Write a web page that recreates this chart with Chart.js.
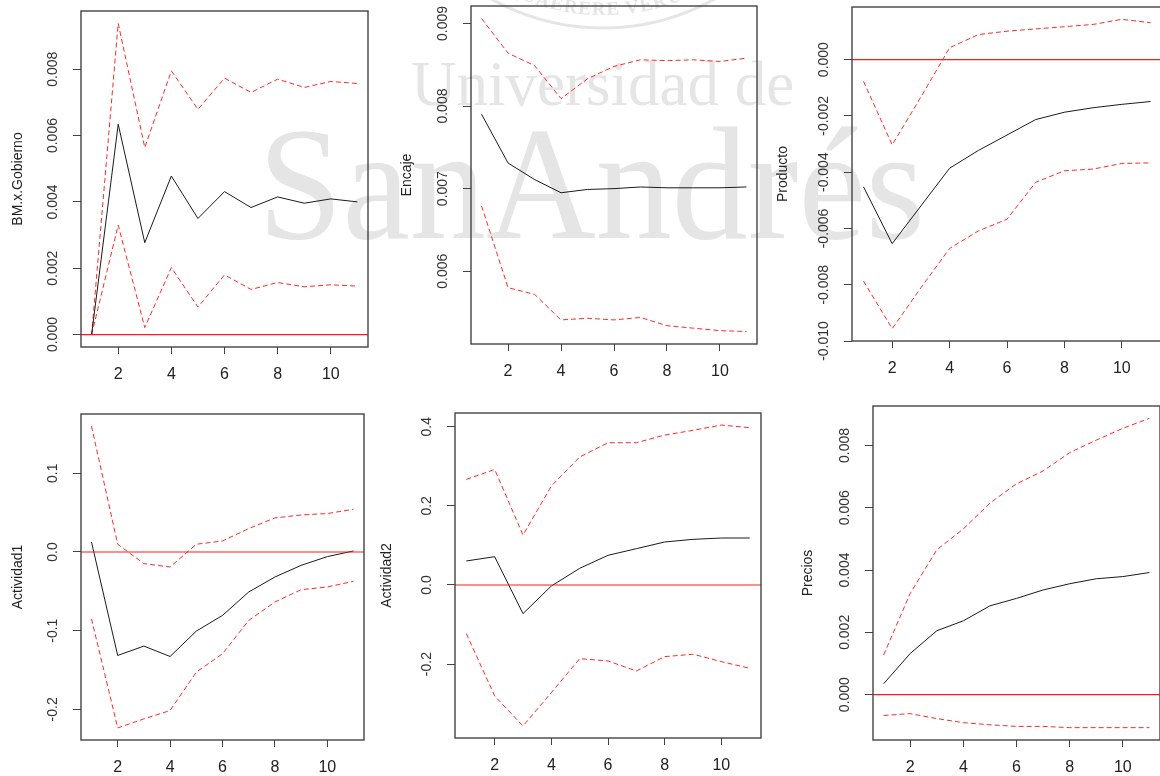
<!DOCTYPE html>
<html>
<head>
<meta charset="utf-8">
<script src="https://cdn.jsdelivr.net/npm/chart.js@4.4.0/dist/chart.umd.min.js"></script>
<style>
  html, body { margin: 0; padding: 0; background: #fff; }
  body { width: 1160px; height: 776px; overflow: hidden; position: relative; }
  canvas { position: absolute; }
</style>
</head>
<body>
<canvas id="watermark" width="1160" height="776" style="left:0;top:0"></canvas>
<script>
// impulse response horizons and shared x ticks
const horizon = [1, 2, 3, 4, 5, 6, 7, 8, 9, 10, 11];
const xTicks = [2, 4, 6, 8, 10];

// BM.x.Gobierno
const bmMean  = [0.0000, 0.00634, 0.00277, 0.00478, 0.00350, 0.00431, 0.00383, 0.00415, 0.00396, 0.00409, 0.00400];
const bmUpper = [0.0000, 0.00938, 0.00564, 0.00795, 0.00679, 0.00773, 0.00730, 0.00770, 0.00745, 0.00763, 0.00757];
const bmLower = [0.0000, 0.00330, 0.00021, 0.00202, 0.00083, 0.00180, 0.00136, 0.00157, 0.00144, 0.00150, 0.00146];
const bmTicks = [0, 0.002, 0.004, 0.006, 0.008];
const bmTickLabels = ["0.000", "0.002", "0.004", "0.006", "0.008"];

// Encaje
const encajeMean  = [0.00790, 0.00731, 0.00711, 0.00695, 0.00699, 0.00700, 0.00702, 0.00701, 0.00701, 0.00701, 0.00702];
const encajeUpper = [0.00906, 0.00864, 0.00849, 0.00809, 0.00833, 0.00848, 0.00856, 0.00855, 0.00856, 0.00854, 0.00858];
const encajeLower = [0.00679, 0.00580, 0.00572, 0.00541, 0.00543, 0.00541, 0.00544, 0.00534, 0.00531, 0.00528, 0.00527];
const encajeTicks = [0.006, 0.007, 0.008, 0.009];
const encajeTickLabels = ["0.006", "0.007", "0.008", "0.009"];

// Producto
const productoMean  = [-0.00452, -0.00654, -0.00520, -0.00386, -0.00323, -0.00268, -0.00213, -0.00187, -0.00171, -0.00159, -0.00149];
const productoUpper = [-0.00077, -0.00303, -0.00133, 0.00042, 0.00089, 0.00101, 0.00109, 0.00117, 0.00125, 0.00143, 0.00131];
const productoLower = [-0.00787, -0.00956, -0.00811, -0.00671, -0.00609, -0.00567, -0.00436, -0.00395, -0.00389, -0.00369, -0.00367];
const productoTicks = [-0.010, -0.008, -0.006, -0.004, -0.002, 0];
const productoTickLabels = ["-0.010", "-0.008", "-0.006", "-0.004", "-0.002", "0.000"];

// Actividad1
const act1Mean  = [0.0127, -0.1315, -0.1196, -0.1328, -0.1006, -0.0806, -0.0509, -0.0318, -0.0170, -0.0059, 0.0013];
const act1Upper = [0.1600, 0.0098, -0.0148, -0.0191, 0.0098, 0.0140, 0.0297, 0.0433, 0.0470, 0.0488, 0.0543];
const act1Lower = [-0.0849, -0.2236, -0.2121, -0.2015, -0.1527, -0.1294, -0.0870, -0.0636, -0.0479, -0.0445, -0.0373];
const act1Ticks = [-0.2, -0.1, 0, 0.1];
const act1TickLabels = ["-0.2", "-0.1", "0.0", "0.1"];

// Actividad2
const act2Mean  = [0.0607, 0.0716, -0.0725, -0.0025, 0.0421, 0.0750, 0.0918, 0.1087, 0.1154, 0.1188, 0.1188];
const act2Upper = [0.2670, 0.2920, 0.1264, 0.2500, 0.3235, 0.3597, 0.3597, 0.3790, 0.3910, 0.4044, 0.3976];
const act2Lower = [-0.1230, -0.2805, -0.3564, -0.2720, -0.1862, -0.1920, -0.2174, -0.1811, -0.1750, -0.1938, -0.2106];
const act2Ticks = [-0.2, 0, 0.2, 0.4];
const act2TickLabels = ["-0.2", "0.0", "0.2", "0.4"];

// Precios
const preciosMean  = [0.00035, 0.00132, 0.00205, 0.00237, 0.00285, 0.00309, 0.00336, 0.00356, 0.00372, 0.00379, 0.00392];
const preciosUpper = [0.00127, 0.00325, 0.00465, 0.00532, 0.00615, 0.00677, 0.00718, 0.00777, 0.00817, 0.00855, 0.00887];
const preciosLower = [-0.00067, -0.00061, -0.00077, -0.00090, -0.00097, -0.00102, -0.00102, -0.00106, -0.00106, -0.00106, -0.00106];
const preciosTicks = [0, 0.002, 0.004, 0.006, 0.008];
const preciosTickLabels = ["0.000", "0.002", "0.004", "0.006", "0.008"];

const FONT = "'Liberation Sans', Arial, sans-serif";

// panel boxes (plot region in page pixels) and where the y title sits
const panels = [
  { label: "BM.x.Gobierno", mean: bmMean, upper: bmUpper, lower: bmLower, ticks: bmTicks, tickLabels: bmTickLabels,
    box: { l: 81, r: 368, t: 11, b: 347 }, titleX: 18 },
  { label: "Encaje", mean: encajeMean, upper: encajeUpper, lower: encajeLower, ticks: encajeTicks, tickLabels: encajeTickLabels,
    box: { l: 471, r: 757, t: 6, b: 344 }, titleX: 407 },
  { label: "Producto", mean: productoMean, upper: productoUpper, lower: productoLower, ticks: productoTicks, tickLabels: productoTickLabels,
    box: { l: 852, r: 1162, t: 7, b: 341 }, titleX: 783 },
  { label: "Actividad1", mean: act1Mean, upper: act1Upper, lower: act1Lower, ticks: act1Ticks, tickLabels: act1TickLabels,
    box: { l: 81, r: 364, t: 414, b: 740 }, titleX: 18 },
  { label: "Actividad2", mean: act2Mean, upper: act2Upper, lower: act2Lower, ticks: act2Ticks, tickLabels: act2TickLabels,
    box: { l: 455, r: 761, t: 413, b: 738 }, titleX: 387 },
  { label: "Precios", mean: preciosMean, upper: preciosUpper, lower: preciosLower, ticks: preciosTicks, tickLabels: preciosTickLabels,
    box: { l: 873, r: 1160, t: 406, b: 740 }, titleX: 808 }
];

// R style axis limits: data range stretched by 4% on each side
function paddedRange(series) {
  const all = [].concat(...series);
  const lo = Math.min(...all), hi = Math.max(...all);
  const pad = (hi - lo) * 0.04;
  return [lo - pad, hi + pad];
}

// box, abline(h = 0) and rotated y tick labels like base R graphics
const rStylePlugin = {
  id: "rStyle",
  afterDatasetsDraw(chart) {
    const { ctx, chartArea: a, scales: { y } } = chart;
    if (y.min < 0 && y.max > 0) {
      const py = y.getPixelForValue(0);
      ctx.save();
      ctx.strokeStyle = "#ff1a1a";
      ctx.lineWidth = 1.2;
      ctx.beginPath();
      ctx.moveTo(a.left, py);
      ctx.lineTo(a.right, py);
      ctx.stroke();
      ctx.restore();
    }
  },
  afterDraw(chart, args, opts) {
    const { ctx, chartArea: a, scales: { y } } = chart;
    ctx.save();
    ctx.strokeStyle = "#444";
    ctx.lineWidth = 1.4;
    ctx.strokeRect(a.left, a.top, a.right - a.left, a.bottom - a.top);

    ctx.fillStyle = "#333";
    ctx.font = "14px " + FONT;
    ctx.textAlign = "center";
    ctx.textBaseline = "middle";
    opts.values.forEach((v, i) => {
      ctx.save();
      ctx.translate(a.left - 28, y.getPixelForValue(v));
      ctx.rotate(-Math.PI / 2);
      ctx.fillText(opts.labels[i], 0, 0);
      ctx.restore();
    });
    ctx.restore();
  }
};

const [xMin, xMax] = paddedRange([horizon]);

panels.forEach(p => {
  const left = p.titleX - 18;
  const top = Math.max(0, p.box.t - 6);
  const width = p.box.r + 4 - left;
  const height = p.box.b + 40 - top;

  const canvas = document.createElement("canvas");
  canvas.width = width;
  canvas.height = height;
  canvas.style.left = left + "px";
  canvas.style.top = top + "px";
  document.body.appendChild(canvas);

  const [yMin, yMax] = paddedRange([p.mean, p.upper, p.lower]);
  const dashed = { borderColor: "#ff2a2a", borderWidth: 1, borderDash: [5, 3] };

  new Chart(canvas, {
    type: "line",
    data: {
      labels: horizon,
      datasets: [
        { data: p.mean, borderColor: "#1a1a1a", borderWidth: 1 },
        Object.assign({ data: p.upper }, dashed),
        Object.assign({ data: p.lower }, dashed)
      ]
    },
    options: {
      responsive: false,
      animation: false,
      devicePixelRatio: 1,
      layout: { padding: { top: p.box.t - top, right: left + width - p.box.r, left: 0, bottom: 0 } },
      elements: { point: { radius: 0 }, line: { tension: 0 } },
      plugins: {
        legend: { display: false },
        tooltip: { enabled: false },
        rStyle: { values: p.ticks, labels: p.tickLabels }
      },
      scales: {
        x: {
          type: "linear",
          min: xMin,
          max: xMax,
          afterBuildTicks: s => { s.ticks = xTicks.map(v => ({ value: v })); },
          afterFit: s => { s.height = top + height - p.box.b; },
          grid: { drawOnChartArea: false, drawTicks: true, tickLength: 7, color: "#444" },
          border: { display: false },
          ticks: { font: { family: FONT, size: 16 }, color: "#222", padding: 11, maxRotation: 0, autoSkip: false }
        },
        y: {
          type: "linear",
          min: yMin,
          max: yMax,
          afterBuildTicks: s => { s.ticks = p.ticks.map(v => ({ value: v })); },
          afterFit: s => { s.width = p.box.l - left; },
          grid: { drawOnChartArea: false, drawTicks: true, tickLength: 8, color: "#444" },
          border: { display: false },
          ticks: { display: false },
          title: { display: true, text: p.label, color: "#222", font: { family: FONT, size: 14 }, padding: { top: 9.6, bottom: 0 } }
        }
      }
    },
    plugins: [rStylePlugin]
  });
});

// faint university watermark behind the plots
const wm = document.getElementById("watermark").getContext("2d");
wm.fillStyle = "#e5e5e5";
wm.font = "63px 'Liberation Serif', serif";
wm.fillText("Universidad de", 411, 105);
wm.font = "160px 'Liberation Serif', serif";
wm.fillText("SanAndrés", 258, 238, 667);

// seal at the top edge
const sealX = 603, sealY = -202;
wm.strokeStyle = "#e5e5e5";
wm.lineWidth = 3;
wm.beginPath();
wm.arc(sealX, sealY, 230, 0, Math.PI);
wm.stroke();
wm.font = "bold 19px 'Liberation Serif', serif";
wm.textAlign = "center";
const sealText = "QUAERERE VERUM";
const r = 217;
let ang = wm.measureText(sealText).width * 1.1 / 2 / r;
for (const ch of sealText) {
  const w = wm.measureText(ch).width * 1.1;
  const mid = ang - w / 2 / r;
  wm.save();
  wm.translate(sealX - r * Math.sin(mid), sealY + r * Math.cos(mid));
  wm.rotate(mid);
  wm.fillText(ch, 0, 0);
  wm.restore();
  ang -= w / r;
}
</script>
</body>
</html>
